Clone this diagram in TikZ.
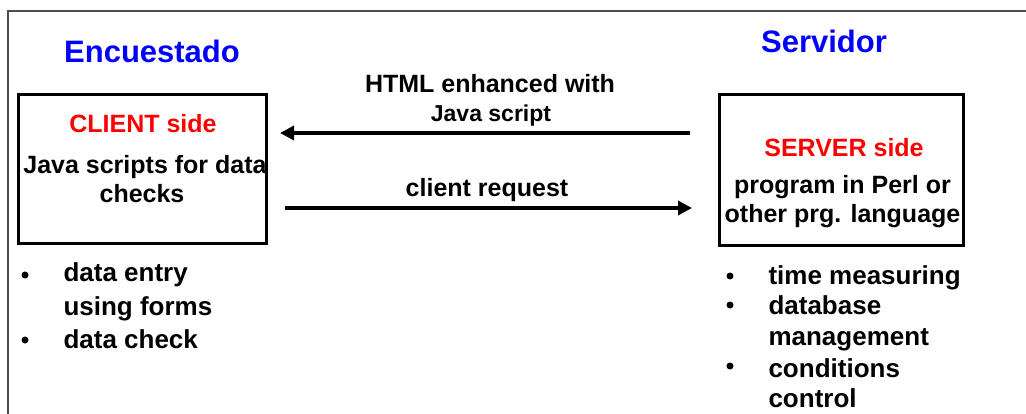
\documentclass[tikz,border=0pt]{standalone}
\usepackage{fontspec}
\setmainfont{Liberation Sans}
\usetikzlibrary{arrows.meta}
\definecolor{tblue}{RGB}{0,0,255}
\definecolor{tred}{RGB}{255,0,0}
\begin{document}
\begin{tikzpicture}[x=1pt,y=-1pt,
  frame/.style={draw=black!70,line width=2.5pt},
  box/.style={draw=black,line width=3pt,inner sep=0pt},
  title/.style={anchor=base,text=tblue,font=\bfseries\fontsize{31}{36}\selectfont},
  redlbl/.style={anchor=base,text=tred,font=\bfseries\fontsize{25}{30}\selectfont},
  boxtxt/.style={anchor=base,font=\bfseries\fontsize{25}{30}\selectfont},
  arrlbl/.style={anchor=base,font=\bfseries\fontsize{25}{30}\selectfont},
  item/.style={anchor=base west,font=\bfseries\fontsize{26}{30}\selectfont},
  dot/.style={circle,fill=black,inner sep=0pt,minimum size=7pt},
  arr/.style={line width=4pt,-{Triangle[length=14pt,width=14pt]}}]
\useasboundingbox (0,0) rectangle (1026,414);
\fill[white] (0,0) rectangle (1026,414);
\draw[frame] (8,416) -- (8,11) -- (1028,11);

% boxes
\node[box,minimum width=248pt,minimum height=149pt] (client) at (142.5,169) {};
\node[box,minimum width=244pt,minimum height=151pt] (server) at (841.5,170) {};

% titles
\node[title] (enc) at (152,63) {Encuestado};
\node[title] (serv) at (824,53) {Servidor};

% client box text
\node[redlbl] (clside) at (143,133) {CLIENT side};
\node[boxtxt] (cl1) at (145,174) {Java scripts for data};
\node[boxtxt] (cl2) at (142,203) {checks};

% server box text
\node[redlbl] (svside) at (844,157) {SERVER side};
\node[boxtxt] (sv1) at (842.5,194) {program in Perl or};
\node[boxtxt] (sv2) at (842.5,223) {other prg. language};

% arrows
\coordinate (a1s) at (690,133);
\coordinate (a1e) at (280,133);
\coordinate (a2s) at (285,208);
\coordinate (a2e) at (692,208);
\draw[arr] (a1s) -- (a1e);
\draw[arr] (a2s) -- (a2e);
\node[arrlbl] (h1) at (490,93) {HTML enhanced with};
\node[arrlbl,font=\bfseries\fontsize{23}{28}\selectfont] (h2) at (491,122) {Java script};
\node[arrlbl] (req) at (487,197) {client request};

% left bullets
\node[dot] (lb1) at (25,275) {};
\node[item] (l1) at (60,282) {data entry};
\node[item] (l2) at (60,316) {using forms};
\node[dot] (lb2) at (25,340) {};
\node[item] (l3) at (60,348) {data check};

% right bullets
\node[dot] (rb1) at (730,276) {};
\node[item] (r1) at (765,284) {time measuring};
\node[dot] (rb2) at (730,305) {};
\node[item] (r2) at (765,315) {database};
\node[item] (r3) at (765,345) {management};
\node[dot] (rb3) at (730,366) {};
\node[item] (r4) at (765,377) {conditions};
\node[item] (r5) at (765,407) {control};
\end{tikzpicture}
\end{document}
